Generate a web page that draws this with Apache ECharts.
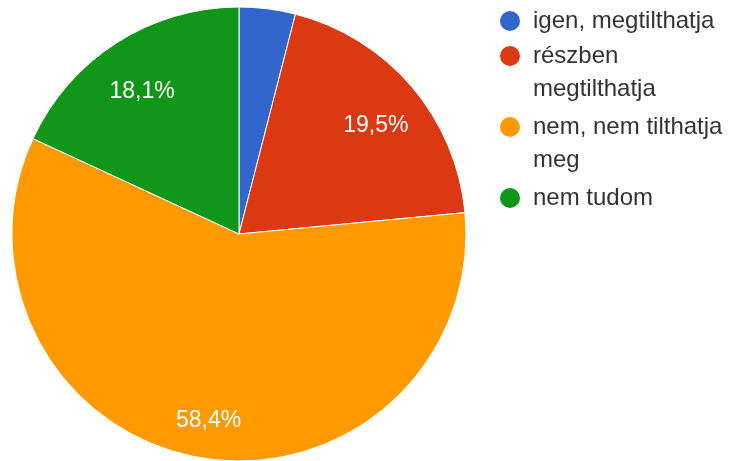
<!DOCTYPE html>
<html>
<head>
<meta charset="UTF-8">
<title>Kördiagram</title>
<script src="https://cdn.jsdelivr.net/npm/echarts@6/dist/echarts.min.js"></script>
<style>
    html, body { margin: 0; padding: 0; background: #fff; }
    #chart { width: 732px; height: 461px; }
</style>
</head>
<body>
<div id="chart"></div>
<script>
    // adatok
    var categories = ['igen, megtilthatja', 'részben\nmegtilthatja', 'nem, nem tilthatja\nmeg', 'nem tudom'];
    var values = [4.0, 19.5, 58.4, 18.1];
    var colors = ['#3366cc', '#dc3912', '#ff9900', '#109618'];

    var font = '"Liberation Sans", Arial, sans-serif';
    var pieData = categories.map(function (name, i) {
        return { name: name, value: values[i] };
    });

    // one legend per item so the dot sits on the first text line
    // (two-line names get an empty line in front, so the block centre is line 1)
    var lineH = 33;
    var legendTops = [4.5, 6.5, 77.5, 181.5];
    var legends = categories.map(function (name, i) {
        return {
            data: [name],
            orient: 'vertical',
            left: 498,
            top: legendTops[i],
            padding: 0,
            icon: 'circle',
            itemWidth: 36,
            itemHeight: 22,
            formatter: function (n) {
                return n.indexOf('\n') >= 0 ? '\n' + n : n;
            },
            textStyle: {
                fontFamily: font,
                fontSize: 24,
                lineHeight: lineH,
                color: '#333'
            }
        };
    });

    var chart = echarts.init(document.getElementById('chart'));
    chart.setOption({
        color: colors,
        animation: false,
        legend: legends,
        series: [{
            type: 'pie',
            center: [239, 234],
            radius: [0, 227],
            startAngle: 90,
            clockwise: true,
            data: pieData,
            itemStyle: { borderColor: '#fff', borderWidth: 1 },
            label: { show: false },
            labelLine: { show: false },
            emphasis: { scale: false }
        }, {
            // transparent ring, only carries the percentage labels
            type: 'pie',
            center: [239, 234],
            radius: [127, 227],
            startAngle: 90,
            clockwise: true,
            silent: true,
            data: pieData,
            itemStyle: { color: 'transparent', borderWidth: 0 },
            label: {
                show: true,
                position: 'inside',
                color: '#fff',
                fontFamily: font,
                fontSize: 23,
                lineHeight: 18,
                // blank first line pushes the text a little below the slice point
                formatter: function (p) {
                    if (p.value < 5) return '';
                    return '\n' + p.value.toFixed(1).replace('.', ',') + '%';
                }
            },
            labelLine: { show: false },
            emphasis: { disabled: true }
        }]
    });
</script>
</body>
</html>
